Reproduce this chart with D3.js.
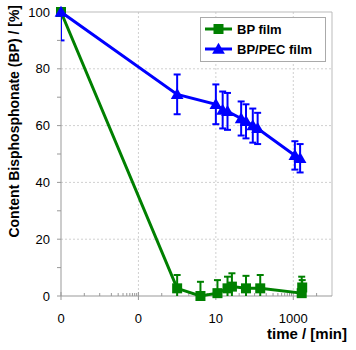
<!DOCTYPE html>
<html>
<head>
<meta charset="utf-8">
<script src="https://cdn.jsdelivr.net/npm/d3@7"></script>
<style>
  body { margin: 0; background: #fff; }
  svg { display: block; font-family: "Liberation Sans", Arial, sans-serif; }
</style>
</head>
<body>
<svg id="chart" width="356" height="350"></svg>
<script>
// time in minutes (t = 0 is drawn at 0.001 on the log axis)
const bpTime  = [0.001, 1, 4, 11, 20, 26, 60, 140, 1650, 1700];
const bpValue = [100, 2.7, 0, 1.0, 2.7, 3.3, 2.7, 2.7, 1.0, 3.0];
const bpErr   = [0, 4.7, 5, 4.6, 4.1, 4.7, 4.4, 4.7, 5.8, 2.6];

const pecTime  = [0.001, 1, 10, 15, 20, 45, 60, 90, 120, 1100, 1500];
const pecValue = [100, 71, 67.5, 65.5, 65, 62.5, 61.5, 60, 59, 49.5, 48.5];
const pecErr   = [10, 7, 7, 6.5, 6.5, 6, 6, 6, 5.5, 5, 5];

const xTickVals   = [0.001, 0.1, 10, 1000];
const xTickLabels = ["0", "0", "10", "1000"];
const yTickVals   = [0, 20, 40, 60, 80, 100];

const seriesNames = ["BP film", "BP/PEC film"];

const GREEN = "#008000", BLUE = "#0000ff";
const L = 61, R = 332, T = 12, B = 296;

const svg = d3.select("#chart");
const x = d3.scaleLog().domain([0.001, 10000]).range([L, R]);
const y = d3.scaleLinear().domain([0, 100]).range([B, T]);

// grid
const grid = svg.append("g");
yTickVals.filter(v => v > 0 && v < 100).forEach(v => {
  grid.append("line").attr("x1", L).attr("x2", R).attr("y1", y(v)).attr("y2", y(v))
    .attr("stroke", "#d0d0d0").attr("stroke-dasharray", "2,2");
});
xTickVals.filter(v => v > 0.001).forEach(v => {
  grid.append("line").attr("x1", x(v)).attr("x2", x(v)).attr("y1", T).attr("y2", B)
    .attr("stroke", "#d0d0d0").attr("stroke-dasharray", "2,2");
});
// plot border (top/right)
svg.append("path").attr("d", `M${L},${T}H${R}V${B}`).attr("fill", "none").attr("stroke", "#bbb");

// axes
const axisCol = "#999";
svg.append("line").attr("x1", L).attr("x2", R).attr("y1", B).attr("y2", B).attr("stroke", axisCol);
svg.append("line").attr("x1", L).attr("x2", L).attr("y1", T).attr("y2", B).attr("stroke", axisCol);

// y ticks (major 20, minor 10)
d3.range(0, 101, 10).forEach(v => {
  svg.append("line").attr("x1", L - 4).attr("x2", L).attr("y1", y(v)).attr("y2", y(v)).attr("stroke", axisCol);
});
yTickVals.forEach(v => {
  svg.append("text").attr("x", 50).attr("y", y(v)).attr("dy", "0.35em")
    .attr("text-anchor", "end").attr("font-size", 13).text(v);
});

// x ticks
xTickVals.forEach((v, i) => {
  svg.append("line").attr("x1", x(v)).attr("x2", x(v)).attr("y1", B - 4).attr("y2", B + 4).attr("stroke", axisCol);
  svg.append("text").attr("x", x(v)).attr("y", 323).attr("text-anchor", "middle")
    .attr("font-size", 13).text(xTickLabels[i]);
});
xTickVals.forEach(v => {
  [4, 10, 20, 30, 40, 50, 60, 70, 80, 90].forEach(k => {
    const t = v * k;
    if (t >= 10000) return;
    svg.append("line").attr("x1", x(t)).attr("x2", x(t)).attr("y1", B - 3).attr("y2", B).attr("stroke", axisCol);
  });
});

// titles
svg.append("text").attr("x", 347).attr("y", 339).attr("text-anchor", "end")
  .attr("font-size", 15).attr("font-weight", "bold").text("time / [min]");
svg.append("text").attr("transform", "translate(19,5) rotate(-90)").attr("text-anchor", "end")
  .attr("font-size", 14).attr("font-weight", "bold").text("Content Bisphosphonate (BP) / [%]");

svg.append("defs").append("clipPath").attr("id", "plotClip")
  .append("rect").attr("x", L).attr("y", T).attr("width", R - L).attr("height", B - T);

const tri = d3.symbol().type(d3.symbolTriangle).size(70);

function drawSeries(times, vals, errs, color, shape) {
  const pts = times.map((t, i) => ({ t, v: vals[i], e: errs[i] }));
  const g = svg.append("g");
  g.append("path").datum(pts)
    .attr("d", d3.line().x(d => x(d.t)).y(d => y(d.v)))
    .attr("fill", "none").attr("stroke", color).attr("stroke-width", 3);
  const eb = g.append("g").attr("clip-path", "url(#plotClip)");
  pts.filter(d => d.e > 0).forEach(d => {
    const cx = x(d.t), y1 = y(d.v + d.e), y2 = y(d.v - d.e);
    eb.append("line").attr("x1", cx).attr("x2", cx).attr("y1", y1).attr("y2", y2)
      .attr("stroke", color).attr("stroke-width", 2);
    [y1, y2].forEach(yy => eb.append("line").attr("x1", cx - 3.5).attr("x2", cx + 3.5)
      .attr("y1", yy).attr("y2", yy).attr("stroke", color).attr("stroke-width", 2));
  });
  pts.forEach(d => drawMarker(g, x(d.t), y(d.v), color, shape));
}

function drawMarker(g, cx, cy, color, shape) {
  if (shape === "square") {
    g.append("rect").attr("x", cx - 5).attr("y", cy - 5).attr("width", 10).attr("height", 10).attr("fill", color);
  } else {
    g.append("path").attr("d", tri).attr("transform", `translate(${cx},${cy + 1})`).attr("fill", color);
  }
}

drawSeries(bpTime, bpValue, bpErr, GREEN, "square");
drawSeries(pecTime, pecValue, pecErr, BLUE, "triangle");

// legend
const lg = svg.append("g");
lg.append("rect").attr("x", 200.5).attr("y", 17.5).attr("width", 125).attr("height", 44)
  .attr("fill", "#fff").attr("stroke", "#aaa");
[[GREEN, "square"], [BLUE, "triangle"]].forEach(([c, s], i) => {
  const yy = 29 + i * 20;
  lg.append("line").attr("x1", 205).attr("x2", 232).attr("y1", yy).attr("y2", yy)
    .attr("stroke", c).attr("stroke-width", 3);
  drawMarker(lg, 218.5, yy, c, s);
  lg.append("text").attr("x", 237).attr("y", yy).attr("dy", "0.35em")
    .attr("font-size", 13).attr("font-weight", "bold").text(seriesNames[i]);
});
</script>
</body>
</html>
